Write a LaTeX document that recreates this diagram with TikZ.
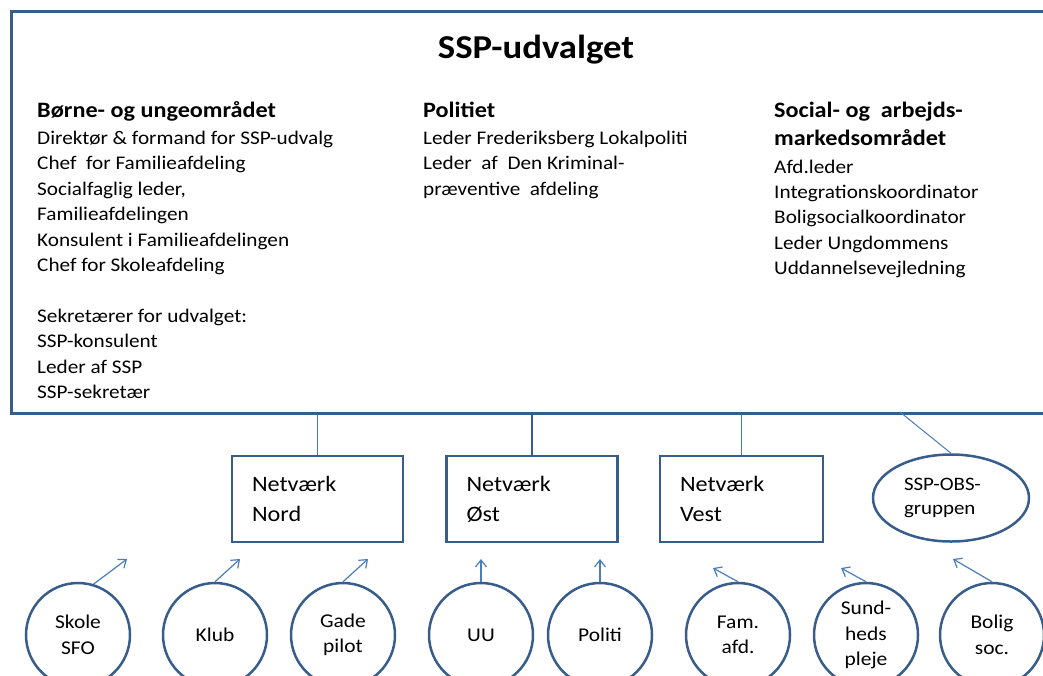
\documentclass[tikz,border=0pt]{standalone}
\usepackage{fontspec}
\setmainfont{Carlito}[FakeStretch=1.1]
\usetikzlibrary{
    arrows.meta,
    positioning,
    shapes.geometric
}
\definecolor{ssplinje}{RGB}{56,93,138}
\definecolor{ssppil}{RGB}{74,126,187}

\begin{document}
\begin{tikzpicture}[
    x=1pt, y=-1pt,
    udvalg/.style={rectangle, draw=ssplinje, line width=2.5pt, minimum width=1060pt, minimum height=402pt, anchor=north west},
    titel/.style={font=\bfseries\fontsize{33.4}{38}\selectfont, anchor=base, inner sep=0pt},
    overskrift/.style={font=\bfseries\fontsize{22}{28}\selectfont, align=left, anchor=base west, inner sep=0pt},
    broedtekst/.style={font=\fontsize{19.3}{25.4}\selectfont, align=left, anchor=base west, inner sep=0pt},
    netvaerk/.style={rectangle, draw=ssplinje, line width=2.5pt, minimum width=171pt, minimum height=86pt, text width=131pt, inner xsep=20pt, align=left, font=\fontsize{22}{30}\selectfont},
    kreds/.style={ellipse, draw=ssplinje, line width=2.5pt, minimum width=104pt, minimum height=104pt, inner sep=0pt, align=center, font=\fontsize{19.5}{25.5}\selectfont},
    obs/.style={ellipse, draw=ssplinje, line width=2.5pt, minimum width=156pt, minimum height=87pt, inner sep=0pt, text width=94pt, align=left, font=\fontsize{19}{23.5}\selectfont},
    tynd/.style={draw=ssppil, line width=1pt},
    tyk/.style={draw=ssplinje, line width=2pt},
    pil/.style={-{Straight Barb[length=7pt, width=11pt]}, draw=ssppil, line width=1.2pt}
]
\useasboundingbox (0,0) rectangle (1043,675);
\clip (0,0) rectangle (1043,675);

% === SSP-UDVALGET (top) ===
\node[udvalg] (udvalg) at (10,10) {};
\node[titel] (titel) at (536,58) {SSP-udvalget};

% Venstre kolonne (base = sidste linje)
\node[overskrift] (boernOvs) at (37,117) {Børne- og ungeområdet};
\node[broedtekst] (boern) at (37,398.5) {Direktør \& formand for SSP-udvalg\\
    Chef~ for Familieafdeling\\
    Socialfaglig leder,\\
    Familieafdelingen\\
    Konsulent i Familieafdelingen\\
    Chef for Skoleafdeling\\[25.4pt]
    Sekretærer for udvalget:\\
    SSP-konsulent\\
    Leder af SSP\\
    SSP-sekretær};

% Midterste kolonne
\node[overskrift] (politiOvs) at (423,117) {Politiet};
\node[broedtekst] (politi) at (423,195.3) {Leder Frederiksberg Lokalpoliti\\
    Leder~ af~ Den Kriminal-\\
    præventive~ afdeling};

% Hoejre kolonne
\node[overskrift] (socialOvs) at (774,145) {Social- og~ arbejds-\\markedsområdet};
\node[broedtekst] (social) at (774,274.6) {Afd.leder\\
    Integrationskoordinator\\
    Boligsocialkoordinator\\
    Leder Ungdommens\\
    Uddannelsevejledning};

% === NETVAERK (middle) ===
\node[netvaerk] (nord) at (317.5,499) {Netværk\\Nord};
\node[netvaerk] (oest) at (532,499) {Netværk\\Øst};
\node[netvaerk, minimum width=163pt, text width=123pt] (vest) at (741.5,499) {Netværk\\Vest};
\node[obs] (ssbobs) at (951,498) {SSP-OBS-\\gruppen};

\draw[tynd] (nord.north) -- (nord.north |- udvalg.south);
\draw[tyk] (oest.north) -- (oest.north |- udvalg.south);
\draw[tynd] (vest.north) -- (vest.north |- udvalg.south);
\coordinate (obsTop) at (900,412);
\draw[tynd] (ssbobs.north) -- (obsTop);

% === AKTOERER (bottom) ===
\node[kreds] (skole) at (78,635) {Skole\\SFO};
\node[kreds] (klub) at (215,635) {Klub};
\node[kreds] (gade) at (343,635) {Gade\\pilot};
\node[kreds] (uu) at (481,635) {UU};
\node[kreds] (politiK) at (600,635) {Politi};
\node[kreds] (fam) at (738,635) {Fam.\\afd.};
\node[kreds] (sund) at (866,635) {Sund-\\heds\\pleje};
\node[kreds] (bolig) at (992,635) {Bolig\\soc.};

% Pilespidser
\coordinate (pSkole) at (127,559);
\coordinate (pKlub) at (240,559);
\coordinate (pGade) at (368,559);
\coordinate (pUU) at (481,559);
\coordinate (pPoliti) at (600,559);
\coordinate (pFam) at (713,568);
\coordinate (pSund) at (841,568);
\coordinate (pBolig) at (953,559);

\draw[pil] (skole.73) -- (pSkole);
\draw[pil] (klub.north) -- (pKlub);
\draw[pil] (gade.north) -- (pGade);
\draw[pil] (uu.north) -- (pUU);
\draw[pil] (politiK.north) -- (pPoliti);
\draw[pil] (fam.north) -- (pFam);
\draw[pil] (sund.north) -- (pSund);
\draw[pil] (bolig.north) -- (pBolig);

\end{tikzpicture}
\end{document}
